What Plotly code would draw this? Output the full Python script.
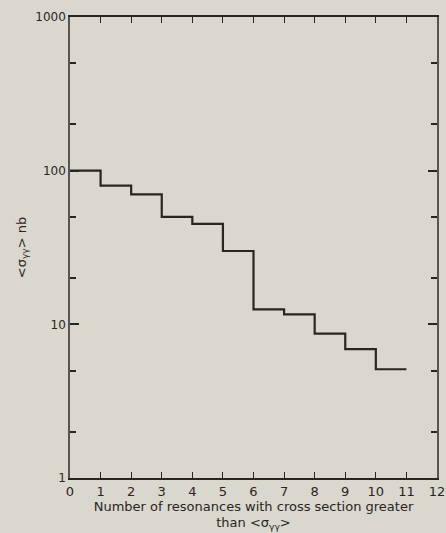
import plotly.graph_objects as go

# Data
resonances = [0, 1, 2, 3, 4, 5, 6, 7, 8, 9, 10, 11]
sigma_nb = [100, 80, 70, 50, 45, 30, 12.5, 11.6, 8.7, 6.9, 5.1, 5.1]

x_ticks = list(range(0, 13))
x_ticktext = [str(v) for v in x_ticks]
y_ticks = [1, 10, 100, 1000]
y_ticktext = ["1", "10", "100", "1000"]
y_minor = [2, 5, 20, 50, 200, 500]

ink = "#2b2522"
bg = "#dad7cf"
font = "DejaVu Sans"

fig = go.Figure()
fig.add_trace(go.Scatter(
    x=resonances, y=sigma_nb, mode="lines", line_shape="hv",
    line=dict(color=ink, width=2.2), showlegend=False, hoverinfo="skip",
))

fig.update_layout(
    width=446, height=533,
    margin=dict(l=70, r=9, t=17, b=55),
    paper_bgcolor=bg, plot_bgcolor=bg,
    font=dict(family=font, color=ink),
)
fig.update_xaxes(
    range=[0, 12], tickmode="array", tickvals=x_ticks, ticktext=x_ticktext,
    ticks="inside", ticklen=6, tickwidth=1.2, tickcolor=ink,
    showline=True, linecolor=ink, linewidth=2, mirror="ticks",
    showgrid=False, zeroline=False, ticklabeloverflow="allow", automargin=False,
    tickfont=dict(size=13, family=font, color=ink),
    title=dict(text="Number of resonances with cross section greater<br>than &lt;σ<sub>γγ</sub>&gt;",
               font=dict(size=13, family=font, color=ink), standoff=3),
)
fig.update_yaxes(
    type="log", range=[0, 3], tickmode="array", tickvals=y_ticks, ticktext=y_ticktext,
    ticks="inside", ticklen=9, tickwidth=2, tickcolor=ink,
    minor=dict(tickvals=y_minor, ticks="inside", ticklen=6, tickwidth=1.5, tickcolor=ink, showgrid=False),
    showline=True, linecolor="#5a5451", linewidth=1.5, mirror="ticks",
    showgrid=False, zeroline=False, automargin=False,
    tickfont=dict(size=12, family=font, color=ink),
    title=dict(text="&lt;σ<sub>γγ</sub>&gt; nb", font=dict(size=13, family=font, color=ink), standoff=6),
)

fig.write_html("out.html")
